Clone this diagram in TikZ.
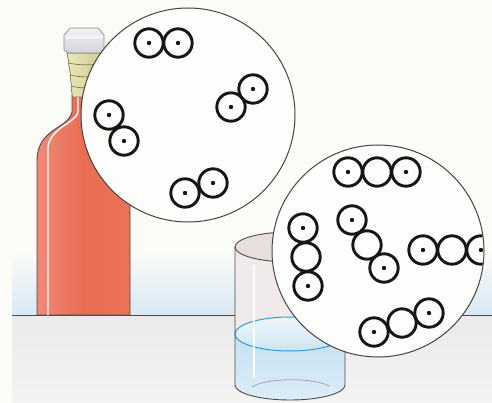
\documentclass[tikz,border=0pt]{standalone}
\usetikzlibrary{shapes.geometric}
\definecolor{paper}{HTML}{FBFBF8}
\definecolor{haze}{HTML}{D8E8F3}
\definecolor{tabletop}{HTML}{EAEBEA}
\definecolor{tablelow}{HTML}{F3F3F1}
\definecolor{edge}{HTML}{4E4A48}
\definecolor{ink}{HTML}{161616}
\definecolor{redL}{HTML}{EF8878}
\definecolor{redM}{HTML}{E86D52}
\definecolor{redR}{HTML}{EB7258}
\definecolor{capT}{HTML}{F2F2F4}
\definecolor{capB}{HTML}{D3D3D8}
\definecolor{capE}{HTML}{8C8C92}
\definecolor{threadL}{HTML}{E9E7BA}
\definecolor{threadR}{HTML}{CFCC92}
\definecolor{threadE}{HTML}{7E7B4C}
\definecolor{glass}{HTML}{F0EBEA}
\definecolor{glassin}{HTML}{E7DFDE}
\definecolor{waterT}{HTML}{BCDDF1}
\definecolor{waterB}{HTML}{DCEDF7}
\definecolor{surfT}{HTML}{EEF6FA}
\definecolor{surfB}{HTML}{CDE5F3}
\definecolor{waterline}{HTML}{2E9FD6}
\begin{document}
\begin{tikzpicture}[x=1pt,y=-1pt,
  outline/.style={draw=edge,line width=0.9pt},
  lens/.style={circle,draw=edge!90!black,line width=1pt,fill=paper!60!white,inner sep=0pt},
  atom/.style={circle,draw=ink,line width=2.9pt,minimum size=28.4pt,inner sep=0pt},
  datom/.style={atom,path picture={\fill[ink] (path picture bounding box.center) circle (2.2pt);}}]
\useasboundingbox (0,0) rectangle (492,403);
% paper, wall haze and table
\fill[paper] (0,0) rectangle (492,403);
\shade[top color=paper,bottom color=haze] (12,252) rectangle (492,315);
\shade[top color=tabletop,bottom color=tablelow] (12,315) rectangle (492,403);
\draw[edge,line width=0.8pt] (12,315) -- (492,315);

% bottle body
\shade[left color=redL,right color=redR,middle color=redM,draw=edge,line width=0.9pt]
  (37,315) -- (37,162) .. controls (37,150) and (40,141) .. (50,133)
  .. controls (58,126) and (70,122) .. (72,112) -- (72,95) -- (100,95) -- (100,112)
  .. controls (102,125) and (130,130) .. (130,162) -- (130,315) -- cycle;
\draw[white,line width=1.4pt] (78,97) -- (78,112) .. controls (77,122) and (50,128) .. (48,147) -- (48,315);

% threaded neck
\shade[left color=threadL,right color=threadR,draw=threadE,line width=0.7pt]
  (67,53) -- (69,63) -- (68.5,63.5) -- (70.5,75) -- (70,75.5) -- (71.5,86) -- (71,86.5) -- (72.5,97)
  -- (95,97) -- (101,53) -- cycle;
\foreach \yy/\xl in {63/68.5,75/70,86/71}
  \draw[threadE,line width=0.7pt] (\xl,\yy) .. controls (80,\yy+2.5) and (92,\yy+2.5) .. (101,\yy);

% cap
\shade[top color=capT,bottom color=capB,draw=capE,line width=0.7pt]
  (70,28) -- (98,28) -- (104,35) -- (104,50) -- (101,53) -- (68,53) -- (64,50) -- (64,35) -- cycle;
\fill[capT] (65,35.5) -- (103,35.5) -- (103,39) -- (65,39) -- cycle;

% beaker glass
\fill[glass] (235,247) -- (235,385) arc[start angle=180,end angle=0,x radius=55,y radius=15]
  -- (345,247) arc[start angle=0,end angle=-180,x radius=55,y radius=15] -- cycle;
\fill[glassin] (290,247) ellipse [x radius=55,y radius=15];
% water
\shade[top color=waterT,bottom color=waterB]
  (235,334) arc[start angle=180,end angle=360,x radius=55,y radius=17]
  -- (345,385) arc[start angle=0,end angle=180,x radius=55,y radius=15] -- cycle;
\shade[top color=surfT,bottom color=surfB] (290,334) ellipse [x radius=55,y radius=17];
\draw[waterline,line width=1pt] (290,334) ellipse [x radius=55,y radius=17];
\draw[gray!70,line width=0.8pt] (252,387) arc[start angle=200,end angle=335,x radius=42,y radius=11];
\draw[white,line width=1.4pt] (254,265) -- (254,378);
% beaker outline
\draw[outline] (290,247) ellipse [x radius=55,y radius=15];
\draw[outline] (235,247) -- (235,385) arc[start angle=180,end angle=0,x radius=55,y radius=15] -- (345,247);

% magnified views
\node[lens,minimum size=214pt] (gasview) at (188,115) {};
\node[lens,minimum size=212pt] (liqview) at (378,251) {};

% two-atom molecules
\node[datom] (a1) at (149,43) {};
\node[datom] (a2) at (178,43) {};
\node[datom] (b1) at (253,89) {};
\node[datom] (b2) at (231,107) {};
\node[datom] (c1) at (109,115) {};
\node[datom] (c2) at (124,141) {};
\node[datom] (d1) at (185,193) {};
\node[datom] (d2) at (213,183) {};

% three-atom molecules
\begin{scope}
\clip (378,251) circle (105.5);
\node[datom] (p1) at (348,172) {};
\node[atom]  (p2) at (377,172) {};
\node[datom] (p3) at (406,172) {};
\node[datom] (q1) at (303,228) {};
\node[atom]  (q2) at (306,257) {};
\node[datom] (q3) at (308,286) {};
\node[datom] (r1) at (352,220) {};
\node[atom]  (r2) at (367,245) {};
\node[datom] (r3) at (384,268) {};
\node[datom] (s1) at (423,250) {};
\node[atom]  (s2) at (452,250) {};
\node[datom] (s3) at (481,250) {};
\node[datom] (t1) at (374,332) {};
\node[atom]  (t2) at (402,323) {};
\node[datom] (t3) at (429,313) {};
\end{scope}
\end{tikzpicture}
\end{document}
